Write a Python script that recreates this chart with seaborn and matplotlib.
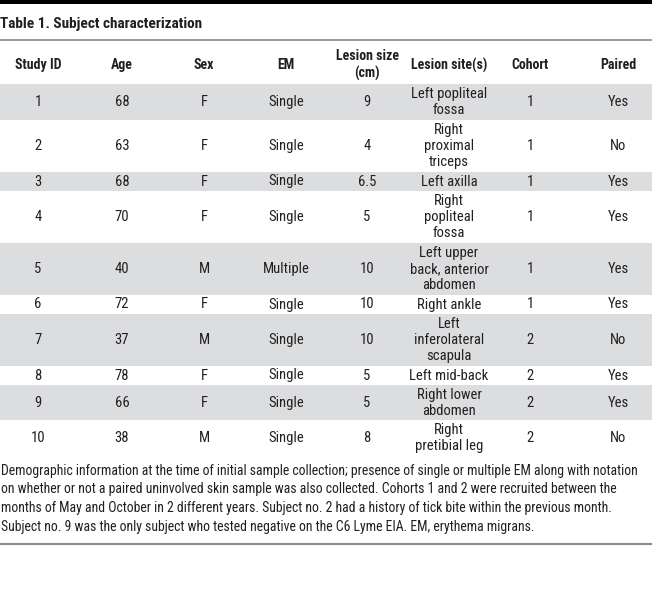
import matplotlib
matplotlib.use('Agg')
import matplotlib.pyplot as plt
from matplotlib import font_manager
import pandas as pd
import seaborn as sns

# Table contents
headers = ['Study ID', 'Age', 'Sex', 'EM', 'Lesion size\n(cm)', 'Lesion site(s)', 'Cohort', 'Paired']
study_id = ['1', '2', '3', '4', '5', '6', '7', '8', '9', '10']
age = ['68', '63', '68', '70', '40', '72', '37', '78', '66', '38']
sex = ['F', 'F', 'F', 'F', 'M', 'F', 'M', 'F', 'F', 'M']
em = ['Single', 'Single', 'Single', 'Single', 'Multiple', 'Single', 'Single', 'Single', 'Single', 'Single']
lesion_size = ['9', '4', '6.5', '5', '10', '10', '10', '5', '5', '8']
lesion_site = ['Left popliteal\nfossa', 'Right\nproximal\ntriceps', 'Left axilla',
               'Right\npopliteal\nfossa', 'Left upper\nback, anterior\nabdomen', 'Right ankle',
               'Left\ninferolateral\nscapula', 'Left mid-back', 'Right lower\nabdomen',
               'Right\npretibial leg']
cohort = ['1', '1', '1', '1', '1', '1', '2', '2', '2', '2']
paired = ['Yes', 'No', 'Yes', 'Yes', 'Yes', 'Yes', 'No', 'Yes', 'Yes', 'No']

title = 'Table 1. Subject characterization'
footnote = [
    'Demographic information at the time of initial sample collection; presence of single or multiple EM along with notation',
    'on whether or not a paired uninvolved skin sample was also collected. Cohorts 1 and 2 were recruited between the',
    'months of May and October in 2 different years. Subject no. 2 had a history of tick bite within the previous month.',
    'Subject no. 9 was the only subject who tested negative on the C6 Lyme EIA. EM, erythema migrans.',
]

df = pd.DataFrame(list(zip(study_id, age, sex, em, lesion_size, lesion_site, cohort, paired)),
                  columns=headers)

sns.set_theme(style='white')

available = {f.name for f in font_manager.fontManager.ttflist}
font = 'DejaVu Sans'
for cand in ['Liberation Sans Narrow', 'Roboto Condensed', 'Open Sans Condensed', 'Roboto']:
    if cand in available:
        font = cand
        break
plt.rcParams['font.family'] = [font, 'DejaVu Sans']

txt = '#231f20'
shade = '#dcdddf'
fs = 10.5

fig = plt.figure(figsize=(6.52, 6.06), dpi=100)
ax = fig.add_axes([0, 0, 1, 1])
ax.set_xlim(0, 652)
ax.set_ylim(606, 0)
ax.axis('off')

col_x = [38, 122, 204, 286, 367, 449, 530, 618]

# top bar, title, header rule
ax.axhspan(0, 3.5, color='black', lw=0)
ax.text(0, 24, title, fontsize=11, fontweight='bold', color=txt, va='center', ha='left')
ax.axhline(40, color='#8a8a8a', lw=1.2)

for x, h in zip(col_x, headers):
    ax.text(x, 65, h, fontsize=10, fontweight='bold', color=txt, ha='center', va='center',
            linespacing=1.2)

# body rows, height from number of text lines
line_h = 16.5
y = 84
for i, row in df.iterrows():
    n = max(str(v).count('\n') + 1 for v in row.values)
    h = line_h * n + 2.5
    if i % 2 == 0:
        ax.axhspan(y, y + h, color=shade, lw=0)
    for x, v in zip(col_x, row.values):
        ax.text(x, y + h / 2 + 0.5, v, fontsize=fs, color=txt, ha='center', va='center',
                linespacing=1.2)
    y += h

# footnote, sized so the first line fills the width
notes = [ax.text(1, 471 + 18.5 * k, line, fontsize=fs, color=txt, ha='left', va='center')
         for k, line in enumerate(footnote)]
renderer = fig.canvas.get_renderer()
w = notes[0].get_window_extent(renderer).width
for t in notes:
    t.set_fontsize(fs * 648 / w)

ax.axhline(544, color='#8a8a8a', lw=1.5)

fig.savefig('out.png', dpi=100)
